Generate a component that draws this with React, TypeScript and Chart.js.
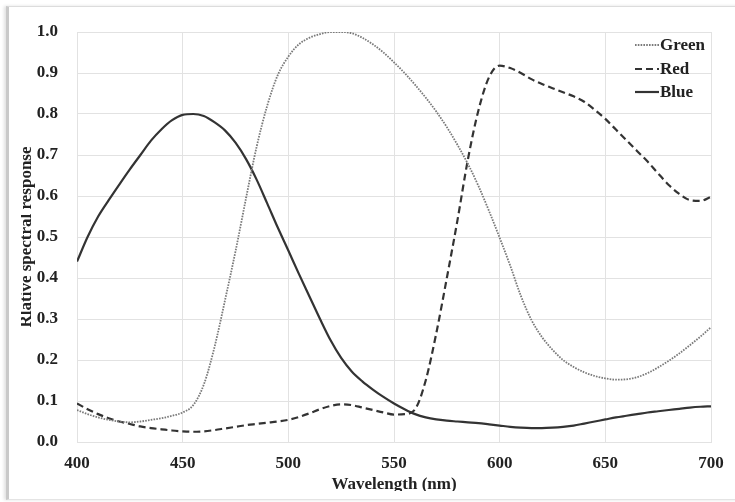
import React, { useEffect, useRef } from "react";
import { Chart, registerables } from "chart.js";

Chart.register(...registerables);

const wavelengths = [
  400, 405, 410, 415, 420, 425, 430, 435, 440, 445, 450, 455, 460, 465, 470, 475, 480, 485, 490, 495,
  500, 505, 510, 515, 520, 525, 530, 535, 540, 545, 550, 555, 560, 565, 570, 575, 580, 585, 590, 595,
  600, 605, 610, 615, 620, 625, 630, 635, 640, 645, 650, 655, 660, 665, 670, 675, 680, 685, 690, 695, 700,
];

const greenValues = [
  0.078, 0.068, 0.06, 0.054, 0.05, 0.048, 0.05, 0.054, 0.058, 0.064, 0.072, 0.09, 0.14, 0.23, 0.345, 0.465, 0.595, 0.72, 0.82, 0.895,
  0.94, 0.97, 0.986, 0.995, 1.0, 1.0, 0.997, 0.986, 0.97, 0.95, 0.926, 0.9, 0.871, 0.84, 0.806, 0.768, 0.725, 0.678, 0.624, 0.563,
  0.498, 0.43, 0.357, 0.298, 0.256, 0.225, 0.2, 0.183, 0.17, 0.161, 0.155, 0.152, 0.153, 0.158, 0.168, 0.182, 0.198, 0.216, 0.236, 0.257, 0.28,
];

const redValues = [
  0.094, 0.08, 0.068, 0.058, 0.05, 0.044, 0.038, 0.034, 0.031, 0.028, 0.026, 0.025, 0.026, 0.029, 0.033, 0.037, 0.041, 0.044, 0.047, 0.05,
  0.054, 0.061, 0.07, 0.08, 0.088, 0.092, 0.09, 0.084, 0.078, 0.072, 0.067, 0.068, 0.08, 0.15, 0.265, 0.4, 0.54, 0.69, 0.81, 0.89,
  0.918, 0.912, 0.9, 0.885, 0.873, 0.863, 0.853, 0.843, 0.83, 0.81, 0.788, 0.762, 0.736, 0.71, 0.684, 0.655, 0.627, 0.605, 0.59, 0.588, 0.598,
];

const blueValues = [
  0.44, 0.5, 0.55, 0.59, 0.628, 0.665, 0.7, 0.735, 0.763, 0.785, 0.798, 0.8, 0.795, 0.78, 0.76, 0.73, 0.69, 0.64, 0.582, 0.523,
  0.467, 0.41, 0.355, 0.3, 0.248, 0.205, 0.172, 0.148, 0.128, 0.11, 0.094, 0.08, 0.068, 0.06, 0.055, 0.052, 0.05, 0.048, 0.046, 0.043,
  0.04, 0.037, 0.035, 0.034, 0.034, 0.035, 0.037, 0.04, 0.045, 0.05, 0.055, 0.06, 0.064, 0.068, 0.072, 0.075, 0.078, 0.081, 0.084, 0.086, 0.087,
];

const seriesNames = ["Green", "Red", "Blue"];
const xTicks = [400, 450, 500, 550, 600, 650, 700];
const yTicks = [0, 0.1, 0.2, 0.3, 0.4, 0.5, 0.6, 0.7, 0.8, 0.9, 1.0];
const xTitle = "Wavelength (nm)";
const yTitle = "Rlative spectral response";

const FONT = "'Liberation Serif', 'Times New Roman', serif";
const GRID = "#e2e2e2";

const legendPlugin = {
  id: "insideLegend",
  afterDatasetsDraw(chart: any) {
    const ctx = chart.ctx;
    const area = chart.chartArea;
    const xLineStart = area.right - 76;
    const xLineEnd = area.right - 52;
    const rowY = [area.top + 13, area.top + 37, area.top + 60];
    chart.data.datasets.forEach((ds: any, i: number) => {
      const y = rowY[i];
      ctx.save();
      ctx.strokeStyle = ds.borderColor;
      ctx.lineWidth = ds.borderWidth;
      ctx.setLineDash(ds.borderDash || []);
      ctx.beginPath();
      ctx.moveTo(xLineStart, y);
      ctx.lineTo(xLineEnd, y);
      ctx.stroke();
      ctx.setLineDash([]);
      ctx.fillStyle = "#222";
      ctx.font = "bold 17px " + FONT;
      ctx.textBaseline = "middle";
      ctx.textAlign = "left";
      ctx.fillText(ds.label, xLineEnd + 1, y + 1);
      ctx.restore();
    });
  },
};

export default function App() {
  const canvasRef = useRef<HTMLCanvasElement | null>(null);

  useEffect(() => {
    const canvas = canvasRef.current;
    if (!canvas) return;
    const mk = (vals: number[]) => wavelengths.map((w, i) => ({ x: w, y: vals[i] }));
    const chart = new Chart(canvas, {
      type: "line",
      data: {
        datasets: [
          {
            label: seriesNames[0],
            data: mk(greenValues),
            borderColor: "#7a7a7a",
            borderWidth: 1.8,
            borderDash: [1.6, 1.2],
            pointRadius: 0,
            cubicInterpolationMode: "monotone",
          },
          {
            label: seriesNames[1],
            data: mk(redValues),
            borderColor: "#333333",
            borderWidth: 2.2,
            borderDash: [7, 4],
            pointRadius: 0,
            cubicInterpolationMode: "monotone",
          },
          {
            label: seriesNames[2],
            data: mk(blueValues),
            borderColor: "#333333",
            borderWidth: 2.2,
            pointRadius: 0,
            cubicInterpolationMode: "monotone",
          },
        ],
      },
      options: {
        animation: false,
        responsive: false,
        maintainAspectRatio: false,
        layout: { padding: { left: 0, top: 32, right: 24, bottom: 0 } },
        plugins: { legend: { display: false }, tooltip: { enabled: false } },
        scales: {
          x: {
            type: "linear",
            min: 400,
            max: 700,
            afterBuildTicks: (scale: any) => {
              scale.ticks = xTicks.map((v) => ({ value: v }));
            },
            afterFit: (scale: any) => {
              scale.height = 60;
            },
            grid: { color: GRID, drawTicks: false, lineWidth: 1 },
            border: { color: GRID },
            ticks: {
              color: "#222",
              padding: 11,
              font: { family: FONT, size: 17, weight: "bold" },
              maxRotation: 0,
              callback: (v: any) => String(v),
            },
            title: {
              display: true,
              text: xTitle,
              color: "#222",
              font: { family: FONT, size: 17, weight: "bold" },
              padding: { top: 0, bottom: 7 },
            },
          },
          y: {
            type: "linear",
            min: 0,
            max: 1,
            afterBuildTicks: (scale: any) => {
              scale.ticks = yTicks.map((v) => ({ value: v }));
            },
            afterFit: (scale: any) => {
              scale.width = 77;
            },
            grid: { color: GRID, drawTicks: false, lineWidth: 1 },
            border: { color: GRID },
            ticks: {
              color: "#222",
              padding: 19,
              font: { family: FONT, size: 17, weight: "bold" },
              callback: (v: any) => Number(v).toFixed(1),
            },
            title: {
              display: true,
              text: yTitle,
              color: "#222",
              font: { family: FONT, size: 17, weight: "bold" },
              padding: { top: 16, bottom: 0 },
            },
          },
        },
      },
      plugins: [legendPlugin],
    } as any);
    return () => chart.destroy();
  }, []);

  return (
    <div style={{ position: "fixed", left: 0, top: 0, width: 735, height: 502, background: "#fff", overflow: "hidden" }}>
      <div
        style={{
          position: "absolute",
          left: 6,
          top: 6,
          width: 760,
          height: 494,
          borderLeft: "3px solid #c9c9c9",
          borderTop: "1px solid #dcdcdc",
          borderBottom: "1px solid #e4e4e4",
          boxShadow: "-2px 0 3px rgba(0,0,0,0.12)",
          boxSizing: "border-box",
        }}
      />
      <div style={{ position: "absolute", left: 21, top: 0, width: 714, height: 491, overflow: "hidden" }}>
        <canvas
          ref={canvasRef}
          width={735}
          height={502}
          style={{ position: "absolute", left: -21, top: 0, width: 735, height: 502 }}
        />
      </div>
    </div>
  );
}
